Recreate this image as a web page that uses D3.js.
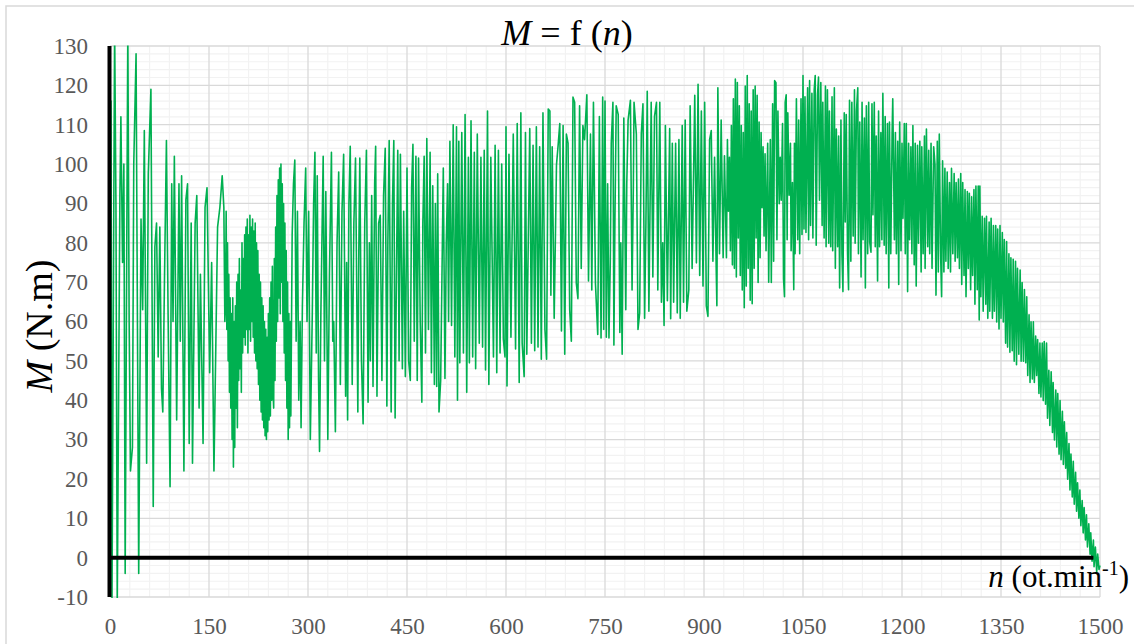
<!DOCTYPE html>
<html>
<head>
<meta charset="utf-8">
<script src="https://cdn.jsdelivr.net/npm/d3@7"></script>
<style>
  body { margin: 0; background: #fff; }
  svg { display: block; }
</style>
</head>
<body>
<svg id="chart" width="1134" height="644"></svg>
<script>
// Axis ticks
const xTickValues = [0, 150, 300, 450, 600, 750, 900, 1050, 1200, 1350, 1500];
const yTickValues = [-10, 0, 10, 20, 30, 40, 50, 60, 70, 80, 90, 100, 110, 120, 130];

// Torque M (N.m) against speed n (ot/min), as [n, M], split by speed range
const rangeA = [
  [0, 96], [1.5, 116], [3, -12], [7, 135], [9, 90], [11, -12], [15, 92], [16.5, 112], [19, 75], [21, 100],
  [23, -4], [27, 135], [29, 60], [31, 22], [34, 28], [36, 100], [39.5, 128], [43.5, -4], [47, 86], [49.5, 63],
  [52, 108.5], [55.5, 24], [58, 97.5], [62, 119], [65.5, 13], [68, 79], [70.5, 85], [73, 51], [75.5, 84], [78, 43],
  [80, 37], [82.5, 70], [85.5, 106], [88, 62], [91, 18], [93.5, 95], [95.5, 60], [97.5, 102], [101, 35], [104.5, 95],
  [106.5, 55], [108.5, 97], [112, 22], [115, 91], [117.5, 95], [120, 29], [123, 85], [125, 24], [129, 85], [131.5, 92],
  [135, 38], [137, 72], [139, 50], [141, 29], [144, 89], [147, 94], [151, 47], [154, 75], [157.5, 22], [163, 84],
  [166.5, 89], [170, 97], [172.5, 89], [174, 60], [175, 64], [176, 88], [177, 58], [178, 80], [179, 50], [180, 72],
  [181, 42], [182, 66], [183, 38], [184, 62], [185, 30], [186, 66], [187, 23], [188, 60], [189, 28], [190, 64],
  [191, 38], [192, 70], [193, 33], [194, 72], [195, 45], [196, 76], [197, 48], [198, 68], [199, 42], [200, 80],
  [201, 52], [202, 76], [203, 56], [204, 82], [205, 54], [206, 84], [207, 58], [208, 86], [209, 52], [210, 82],
  [211, 58], [212, 87], [213, 55], [214, 84], [215, 60], [216, 86], [217, 56], [218, 83], [219, 52], [220, 85],
  [221, 50], [222, 80], [223, 48], [224, 78], [225, 44], [226, 72], [227, 40], [228, 70], [229, 37], [230, 66],
  [231, 35], [232, 64], [233, 33], [234, 60], [235, 31], [236, 58], [237, 30], [238, 56], [239, 32], [240, 62],
  [241, 35], [242, 66], [243, 36], [244, 70], [245, 40], [246, 74], [247, 42]
];

const rangeB = [
  [248, 38], [249, 76], [250, 45], [251, 84], [252, 55], [253, 92], [254, 60], [255, 96], [256, 66], [257, 99],
  [258, 62], [259, 100], [260, 70], [261, 95], [262, 60], [263, 90], [264, 52], [265, 85], [266, 45], [267, 78],
  [268, 38], [269, 70], [270, 30], [271, 62], [272, 33], [273, 60], [274, 36], [276, 82], [278, 95], [280, 101],
  [282, 55], [284, 88], [286, 40], [288, 60], [289.5, 33], [291.5, 64], [294, 85], [296.5, 99], [298.5, 60], [301, 88],
  [303.5, 30], [306.5, 62], [308.5, 90], [310.5, 103], [312.5, 52], [314, 97], [316, 45], [317.5, 27], [319.5, 62], [321.5, 85],
  [323, 102], [325, 50], [327, 93], [330, 30], [332.5, 72], [335.5, 103], [337.5, 55], [339, 60], [341.5, 32], [344, 80],
  [346.5, 98], [349, 44], [351.5, 88], [354, 102.5], [357, 41], [358.5, 75], [360, 35], [362, 90], [364, 104.5], [367, 44],
  [369.5, 85], [372, 101.5], [375.5, 37], [377, 78], [378.5, 101.5], [381, 50], [383.5, 34], [386, 85], [388.5, 103.5], [391, 39.5],
  [393, 80], [394.5, 50], [396.5, 92], [398.5, 43.5], [401, 95], [402.5, 104.5], [404.5, 41], [407, 85], [409.5, 87], [412, 45],
  [414.5, 92], [417, 104], [419.5, 38.5], [421, 80], [423, 106], [426, 37], [428, 90], [430, 106], [432, 35.5], [434, 72],
  [436, 103.5], [438, 50], [440, 102.5], [443, 48], [445, 88], [447.5, 46], [450, 99], [452.5, 50], [455, 45], [457, 94],
  [459, 105], [461, 55], [463.5, 102], [465.5, 45], [467.5, 101.5], [470, 60], [472.5, 39.5], [474, 85], [476, 102], [478, 52],
  [480, 106.5], [482.5, 58], [485, 103], [487, 47], [489, 94.5], [491.5, 44], [493, 90], [495, 43.5], [496.5, 97.5], [498.5, 37],
  [501, 45]
];

const rangeC = [
  [505, 99], [507.5, 45.5], [509.5, 80], [511.5, 95], [513, 60], [515, 105.8], [517.5, 59], [520, 110], [522.5, 51], [525, 109.5],
  [526.5, 40], [528.5, 105.8], [530, 49.5], [533, 108], [535.5, 52], [538, 112.6], [540.5, 42], [543, 101.7], [544.5, 49.5], [547, 111],
  [549.5, 51], [552, 103], [554, 48], [556.5, 107.6], [559.5, 54.5], [562, 101.7], [564.5, 53.5], [567, 103.5], [569, 47.7], [572, 113.5],
  [574, 44], [577, 101.7], [581, 51], [583.5, 104.8], [586, 47], [588.5, 103.5], [591, 52], [593.5, 100], [596, 55.5], [598.5, 51],
  [600, 109.5], [601.5, 43.6], [604.5, 102.5], [607.5, 56], [611, 107.6], [614.5, 53], [617, 110.3], [620, 44.5], [622.5, 113], [624.5, 54.5],
  [627.5, 46], [629.5, 108], [631.5, 51.7], [636, 109], [638.5, 54.5], [641, 104.8], [643.5, 52.6], [646, 109.5], [648.5, 53.5], [651, 104.4],
  [653.5, 50.4], [656, 113], [659, 58], [661.5, 50.4], [664, 114], [666.5, 113.5], [668, 66.7], [670, 104.4], [673, 60.8], [676.5, 99.8],
  [679, 104.8], [681.5, 110.3], [684, 57.6], [686.5, 109.8], [689, 51.7], [691.5, 107.6], [694, 105.3], [696.5, 63], [699, 55], [701.5, 117],
  [704, 115.7], [706.5, 69.8], [709, 65.8], [711.5, 114.8], [714, 73.5], [716.5, 109.8], [719, 106.2], [722.5, 117.6], [725, 70.3], [728, 107.6],
  [730, 68], [732.5, 115.7], [735.5, 69.8], [739, 56.7], [741.5, 112.1], [744, 55.8], [746.5, 117], [748, 58], [750, 116], [752, 56]
];

const rangeD = [
  [754, 95], [756, 55.8], [758, 75], [759.5, 105.3], [762, 115.7], [763.5, 54], [765, 85], [767, 114.8], [770, 112.6], [772.5, 57.2],
  [774, 80], [776, 51.7], [778.5, 111.7], [781.5, 63], [783, 95], [785, 111.2], [788.5, 116.2], [791, 68], [793, 95], [794, 115.7],
  [797.5, 107.6], [800, 58], [802.5, 62.2], [805, 107.6], [807.5, 115.3], [810, 60.8], [812, 85], [814, 118.5], [816.5, 62.6], [820, 115.7],
  [822.5, 71.3], [825, 112.1], [828, 115.7], [830, 68], [833, 115.7], [835.5, 64.9], [837.5, 80], [839.5, 59], [841.5, 109.8], [844.5, 65.3],
  [848, 109], [849.5, 60.7], [852, 105.3], [854, 64.9], [857, 105.3], [859.5, 62.2], [862, 106.2], [864, 60.8], [867, 109.8], [869, 64.9],
  [871.5, 111.2], [874, 62.6], [877, 68], [879, 114.8], [882, 73.5], [886, 117.5], [888.5, 74.9], [891, 120.3], [893.5, 71.7], [896, 113.5],
  [898.5, 69], [901, 115.7], [903.5, 64], [906, 61.3], [908.5, 106.2], [911, 108.5], [913.5, 75.3], [916, 101.7], [918.5, 73.5], [919.5, 64],
  [921, 119.4], [923.5, 77.2], [926, 111.2], [929, 76.2], [931, 102.1], [934, 76.2], [935.5, 106.2], [937, 88], [938.5, 101.7], [940, 78],
  [941.5, 109.8], [943, 74.4], [944.5, 116.6], [946, 73.5], [947.5, 121.6], [949, 71.3], [950.5, 120.7], [952, 81.2], [953.5, 114.8], [955, 71.7],
  [956.5, 109.8], [958, 68], [959.5, 108], [961, 63.5], [962.5, 119.8], [964, 69], [965.5, 122.5], [967, 73.5], [968.5, 115.3], [970, 65.4],
  [971.5, 113.5], [973, 64.5], [974.5, 118.9], [976, 73.5], [977.5, 119.8], [979, 81.2], [980.5, 117.5], [982, 69.9], [983.5, 110.7], [985, 76.2],
  [986.5, 108], [988, 88.9], [989.5, 104.4], [991, 81.7], [992.5, 102.6], [994, 78], [996.5, 105.3], [998, 70], [1000.5, 106.2], [1002, 69.9]
];

const rangeE = [
  [1004, 115.3], [1005.5, 75.3], [1007, 121.2], [1009, 120.7], [1010.5, 80.8], [1012, 113.5], [1014, 89.9], [1015.5, 101.7], [1017, 90.8], [1019, 110.3],
  [1020.5, 70.8], [1022, 66.3], [1023, 115.7], [1024.5, 117.6], [1026, 80.8], [1027, 113], [1029, 92.1], [1031, 105.3], [1032, 78], [1034, 95.3],
  [1036, 68.1], [1037, 105.3], [1038, 77.2], [1040, 116.6], [1042, 80.8], [1043.5, 111.2], [1045, 77.2], [1047, 116.6], [1048.5, 82.1], [1050, 122.5],
  [1051.5, 83.5], [1053, 117.1], [1054.5, 82.6], [1057, 119.4], [1058.5, 80.8], [1060, 121.2], [1061.5, 84.4], [1063.5, 118], [1065, 81.2], [1067, 118.9],
  [1068.5, 122.5], [1070, 79.4], [1072, 117.5], [1073.5, 122.1], [1075, 90.8], [1077, 120.7], [1079, 84.4], [1080, 115.7], [1082, 81.2], [1084, 119.8],
  [1085, 79], [1087, 118.9], [1089, 79.9], [1090, 113.5], [1092, 79], [1094, 117.1], [1095, 78], [1097.5, 119.4], [1099, 73.5], [1100.5, 108.9],
  [1102.5, 79], [1104, 107.1], [1105.5, 68.5], [1107.5, 111.2], [1109, 77.2], [1110.5, 67.6], [1112.5, 113], [1114, 85.3], [1115.5, 112.6], [1117.5, 77.2],
  [1119, 68.1], [1120.5, 116.2], [1122.5, 75.3], [1124, 115.7], [1126, 81.7], [1128, 118.9], [1129, 79.9], [1131, 113.5], [1133, 119.4], [1134, 77.2],
  [1136, 110.7], [1138, 71.3], [1139.5, 115.7], [1141, 80.8], [1143, 111.7], [1144.5, 68.5], [1146, 114.8], [1148, 77.2], [1149.5, 115.7], [1151, 80.3],
  [1153, 77.6], [1154.5, 115.3], [1156, 87.1], [1158, 115.7], [1159.5, 79], [1161, 107.1], [1163, 70.3], [1164.5, 113.5], [1166, 79], [1168, 108],
  [1169.5, 80.8], [1171, 118], [1173, 79.4], [1174.5, 112.1], [1176, 77.2], [1178, 110.3], [1180, 68.5], [1181, 110.7], [1183, 77.2], [1185, 107.6],
  [1186, 116.6], [1188.5, 80.8], [1190, 108], [1191.5, 77.2], [1193.5, 105.8], [1195, 69.4], [1196.5, 110.7], [1198.5, 78], [1200, 105.3], [1201.5, 86.2],
  [1203.5, 110.3], [1205, 77.2], [1206.5, 110.3], [1208.5, 67.6], [1210, 105.3], [1211.5, 80.8], [1213.5, 104.4], [1215, 77.2], [1216.5, 109.8], [1218.5, 74.4],
  [1220, 105.3], [1221.5, 69], [1223.5, 104.8], [1225, 79.9], [1227, 105.8], [1229, 72.6], [1230, 104.4], [1232, 77.2], [1234, 107.1], [1235, 73.5],
  [1237, 108.9], [1239, 79], [1240.5, 103.5], [1242, 77.2], [1244, 105.3], [1245.5, 73.5], [1248, 104.4], [1250, 99.8], [1251.5, 66.7], [1253.5, 105.8]
];

const rangeF = [
  [1255, 72.6], [1256.5, 107.6], [1258.5, 77.2], [1260, 66.3], [1261.5, 100.8], [1263.5, 72.6], [1265, 98.9], [1266.5, 75.3], [1268.5, 98], [1270, 73.5],
  [1272, 95.3], [1273.5, 72.6], [1275, 98.9], [1277, 77.2], [1279, 97.6], [1280.5, 75.3], [1282, 95.3], [1284, 76.2], [1285.5, 96.2], [1287, 73.5],
  [1289, 97.6], [1290.5, 69.4], [1292, 95.3], [1294, 71.7], [1295.5, 93.5], [1297, 66.3], [1299, 93], [1300.5, 73.5], [1302, 92.6], [1304, 68.1],
  [1305.5, 91.7], [1307, 71.7], [1309, 93.5], [1310.5, 64.4], [1312, 94.4], [1314, 68.1], [1315.5, 94.4], [1317, 60.4], [1318, 94.4], [1319.5, 66.3],
  [1321.5, 86.7], [1323, 62.6], [1325, 86.2], [1327, 64.4], [1328, 86.7], [1330, 60.8], [1332, 85.3], [1333, 62.6], [1335, 86.2], [1337, 60.8],
  [1338.5, 84.4], [1340, 62.6], [1342, 84.4], [1343.5, 59.9], [1345, 83.5], [1347, 58.1], [1348.5, 84.4], [1350, 60.8], [1352, 82.6], [1353.5, 59.9],
  [1355, 80.8], [1357, 54.5], [1358.5, 80.3], [1360, 53.5], [1362, 77.2], [1363.5, 52.2], [1365, 76.2], [1367, 52.6], [1368.5, 75.8], [1370, 49.9],
  [1372, 75.3], [1373.5, 49], [1375, 73.5], [1377, 51.7], [1379, 73.1], [1380.5, 49.9], [1382, 69.9], [1384, 49.9], [1385.5, 68.1], [1387.5, 49.5],
  [1389, 66.3], [1390.5, 46.3], [1392.5, 61.7], [1394, 44.5], [1395.5, 59.9], [1397.5, 45.4], [1399, 59.9], [1400.5, 44.5], [1402.5, 56.3], [1404, 46.3],
  [1405.5, 55.4], [1407.5, 41.7], [1409, 54.5], [1410.5, 40.8], [1412.5, 54.5], [1414, 39.9], [1415.5, 54.9], [1417.5, 39], [1419, 54.5], [1420.5, 35.4],
  [1422.5, 47.6], [1424, 33.6], [1426, 47.2], [1428, 31.8], [1429, 44.5], [1431, 29.9], [1433, 42.6], [1434.5, 28.1], [1436, 41.7], [1438, 26.3],
  [1439.5, 39.9], [1441, 24.9], [1443, 37.2], [1444.5, 23.7], [1446, 34.5], [1448, 22.7], [1449.5, 31.8], [1451, 19.9], [1453, 29], [1454.5, 17.2],
  [1456, 26.3], [1458, 15.4], [1459.5, 24.5], [1461, 13.6], [1463, 21.7], [1464.5, 11.8], [1466, 19], [1468, 10], [1469.5, 17.2], [1471, 8.1],
  [1473, 14.5], [1474.5, 6.3], [1476, 12.7], [1478, 4.5], [1479.5, 10.9], [1481, 2.7], [1483, 8.6], [1485, 0.9], [1486, 6.3], [1488, -0.9],
  [1490, 4.5], [1491, -2.3], [1493, 2.7], [1495, -3.7], [1496.5, 0.9], [1498.5, -3], [1500, -2]
];

const torqueCurve = [].concat(rangeA, rangeB, rangeC, rangeD, rangeE, rangeF);

// Layout
const TEXT_FONT = "\"Liberation Serif\", monospace";
const svg = d3.select("#chart");
const plot = { left: 110, right: 1100, top: 46, bottom: 597 };

const x = d3.scaleLinear().domain([0, 1500]).range([plot.left, plot.right]);
const y = d3.scaleLinear().domain([-10, 130]).range([plot.bottom, plot.top]);

// Chart frame
svg.append("rect")
  .attr("x", 6).attr("y", 6).attr("width", 1140).attr("height", 650)
  .attr("fill", "#fff").attr("stroke", "#d9d9d9").attr("stroke-width", 1.5);

// Minor gridlines
const minorX = d3.range(0, 1501, 30).filter(v => v % 150 !== 0);
const minorY = d3.range(-10, 131, 2).filter(v => v % 10 !== 0);
const grid = svg.append("g");
grid.selectAll("line.mx").data(minorX).join("line")
  .attr("x1", d => x(d)).attr("x2", d => x(d))
  .attr("y1", plot.top).attr("y2", plot.bottom)
  .attr("stroke", "#f2f2f2").attr("stroke-width", 1.2);
grid.selectAll("line.my").data(minorY).join("line")
  .attr("x1", plot.left).attr("x2", plot.right)
  .attr("y1", d => y(d)).attr("y2", d => y(d))
  .attr("stroke", "#f2f2f2").attr("stroke-width", 1.2);

// Major gridlines
grid.selectAll("line.Mx").data(xTickValues).join("line")
  .attr("x1", d => x(d)).attr("x2", d => x(d))
  .attr("y1", plot.top).attr("y2", plot.bottom)
  .attr("stroke", "#d9d9d9").attr("stroke-width", 1.3);
grid.selectAll("line.My").data(yTickValues).join("line")
  .attr("x1", plot.left).attr("x2", plot.right)
  .attr("y1", d => y(d)).attr("y2", d => y(d))
  .attr("stroke", "#d9d9d9").attr("stroke-width", 1.3);

// Tick labels
const yAxis = svg.append("g")
  .attr("transform", `translate(${plot.left},0)`)
  .call(d3.axisLeft(y).tickValues(yTickValues).tickFormat(d => String(d)).tickSize(0).tickPadding(22));
const xAxis = svg.append("g")
  .attr("transform", `translate(0,${plot.bottom})`)
  .call(d3.axisBottom(x).tickValues(xTickValues).tickFormat(d => String(d)).tickSize(0).tickPadding(21));
[yAxis, xAxis].forEach(g => {
  g.attr("font-family", "Liberation Serif").attr("font-size", 23);
  g.select(".domain").remove();
  g.selectAll("text")
    .attr("fill", "#595959")
    .attr("font-family", "Liberation Serif")
    .style("font-family", TEXT_FONT)
    .style("font-size", "23px");
});

// Torque curve
svg.append("clipPath").attr("id", "plot-clip")
  .append("rect")
  .attr("x", plot.left).attr("y", plot.top - 0.5)
  .attr("width", plot.right - plot.left + 2).attr("height", plot.bottom - plot.top + 1.5);

const line = d3.line().x(d => x(d[0])).y(d => y(d[1]));
svg.append("path")
  .datum(torqueCurve)
  .attr("clip-path", "url(#plot-clip)")
  .attr("d", line)
  .attr("fill", "none")
  .attr("stroke", "#00b050")
  .attr("stroke-width", 1.6)
  .attr("stroke-linejoin", "round");

// Axis lines through the origin
svg.append("line")
  .attr("x1", x(0) - 0.5).attr("x2", x(0) - 0.5)
  .attr("y1", plot.top).attr("y2", plot.bottom)
  .attr("stroke", "#000").attr("stroke-width", 4);
svg.append("line")
  .attr("x1", x(0) - 2).attr("x2", x(1490))
  .attr("y1", y(0)).attr("y2", y(0))
  .attr("stroke", "#000").attr("stroke-width", 4);

// Title
const title = svg.append("text")
  .attr("x", 567).attr("y", 45)
  .attr("text-anchor", "middle")
  .attr("font-family", "Liberation Serif")
  .style("font-family", TEXT_FONT)
  .style("font-size", "36px").attr("fill", "#000");
title.append("tspan").style("font-style", "italic").text("M");
title.append("tspan").text(" = f (");
title.append("tspan").style("font-style", "italic").text("n");
title.append("tspan").text(")");

// Y axis title
const yTitle = svg.append("text")
  .attr("transform", "translate(52,326) rotate(-90)")
  .attr("text-anchor", "middle")
  .attr("font-family", "Liberation Serif")
  .style("font-family", TEXT_FONT)
  .style("font-size", "38px").attr("fill", "#000");
yTitle.append("tspan").style("font-style", "italic").text("M");
yTitle.append("tspan").text(" (N.m)");

// X axis title
const xTitle = svg.append("text")
  .attr("x", 1129).attr("y", 587)
  .attr("text-anchor", "end")
  .attr("font-family", "Liberation Serif")
  .style("font-family", TEXT_FONT)
  .style("font-size", "31px").attr("fill", "#000");
xTitle.append("tspan").style("font-style", "italic").text("n");
xTitle.append("tspan").text(" (ot.min");
xTitle.append("tspan").attr("dy", -12).style("font-size", "20px").text("-1");
xTitle.append("tspan").attr("dy", 12).text(")");
</script>
</body>
</html>
